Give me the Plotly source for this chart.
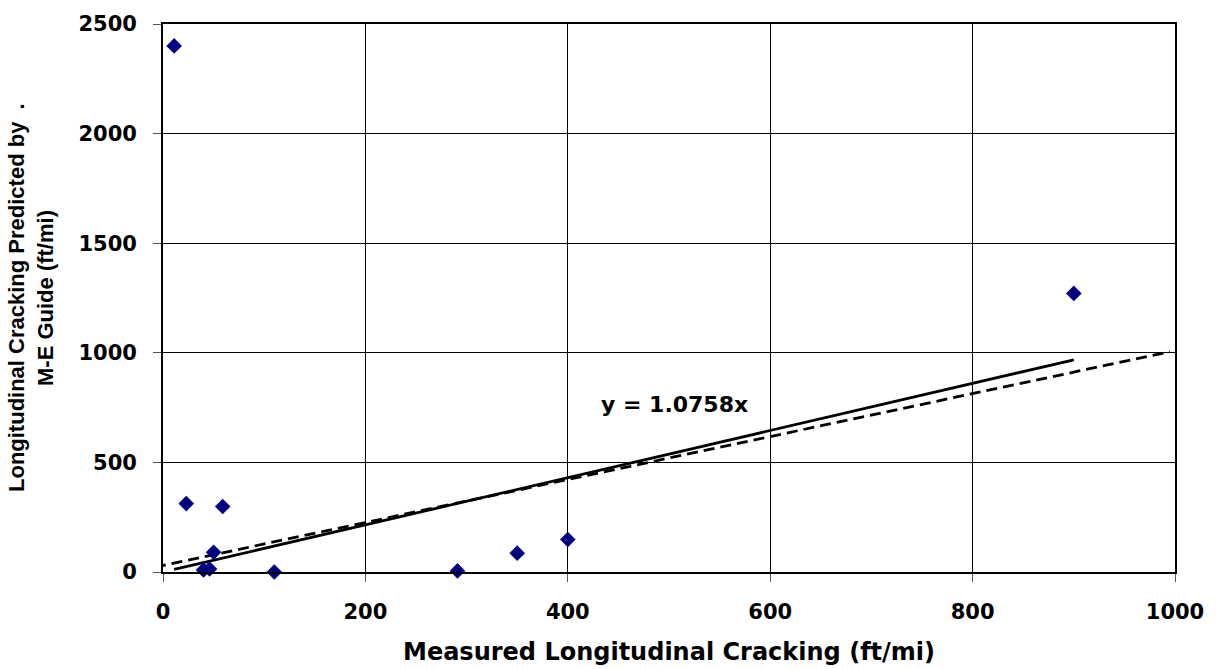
import plotly.graph_objects as go

# Measured vs. predicted longitudinal cracking (ft/mi)
measured = [11, 23, 59, 50, 40, 46, 110, 291, 350, 400, 900]
predicted = [2400, 312, 299, 90, 9, 14, 0, 5, 86, 148, 1271]

# Zero-intercept trendline y = slope * x over the measured range
slope = 1.0758
trend_x = [min(measured), max(measured)]
trend_y = [slope * v for v in trend_x]

# Reference (near line-of-equality) dashed line
ref_x = [-8, 995]
ref_y = [22, 1005]

x_ticks = [0, 200, 400, 600, 800, 1000]
y_ticks = [0, 500, 1000, 1500, 2000, 2500]

wide_font = "DejaVu Sans, Verdana, sans-serif"
arial_font = "Liberation Sans, Arial, sans-serif"

fig = go.Figure()
fig.add_trace(go.Scatter(
    x=ref_x, y=ref_y, mode="lines",
    line=dict(color="black", width=2.8, dash="11px,6px"),
    showlegend=False, hoverinfo="skip",
))
fig.add_trace(go.Scatter(
    x=trend_x, y=trend_y, mode="lines",
    line=dict(color="black", width=2.8),
    showlegend=False, hoverinfo="skip",
))
fig.add_trace(go.Scatter(
    x=measured, y=predicted, mode="markers",
    marker=dict(symbol="diamond", size=12, color="#000080",
                line=dict(width=0)),
    showlegend=False, cliponaxis=False,
))

# Trendline equation label
fig.add_annotation(
    x=505, y=765, xref="x", yref="y",
    text="<b>y = 1.0758x</b>", showarrow=False,
    font=dict(family=wide_font, size=22, color="black"),
)

# Axis titles
fig.add_annotation(
    x=0.5, y=0, xref="paper", yref="paper",
    xanchor="center", yanchor="middle", yshift=-80,
    text="<b>Measured Longitudinal Cracking (ft/mi)</b>", showarrow=False,
    font=dict(family=wide_font, size=24, color="black"),
)
fig.add_annotation(
    x=0, y=0.5, xref="paper", yref="paper",
    xanchor="center", yanchor="middle", xshift=-147, textangle=-90,
    text="<b>Longitudinal Cracking Predicted by  .</b>", showarrow=False,
    font=dict(family=arial_font, size=22, color="black"),
)
fig.add_annotation(
    x=0, y=0.5, xref="paper", yref="paper",
    xanchor="center", yanchor="middle", xshift=-118, textangle=-90,
    text="<b>M-E Guide (ft/mi)</b>", showarrow=False,
    font=dict(family=arial_font, size=22, color="black"),
)

axis_common = dict(
    showgrid=True, gridcolor="black", gridwidth=1,
    showline=True, linecolor="black", linewidth=1.8, mirror=True,
    ticks="outside", ticklen=8, tickcolor="#555555", tickwidth=1,
    zeroline=False,
    tickfont=dict(family=wide_font, size=21, color="black"),
)

fig.update_xaxes(
    range=[0, 1000], tickvals=x_ticks,
    ticktext=[f"<b>{v}</b>" for v in x_ticks],
    ticklabelstandoff=12,
    **axis_common,
)
fig.update_yaxes(
    range=[0, 2500], tickvals=y_ticks,
    ticktext=[f"<b>{v}</b>" for v in y_ticks],
    ticklabelstandoff=12,
    **axis_common,
)

fig.update_layout(
    width=1216, height=669,
    margin=dict(l=163, r=41, t=20, b=97),
    paper_bgcolor="white", plot_bgcolor="white",
)

fig.write_html("out.html")
